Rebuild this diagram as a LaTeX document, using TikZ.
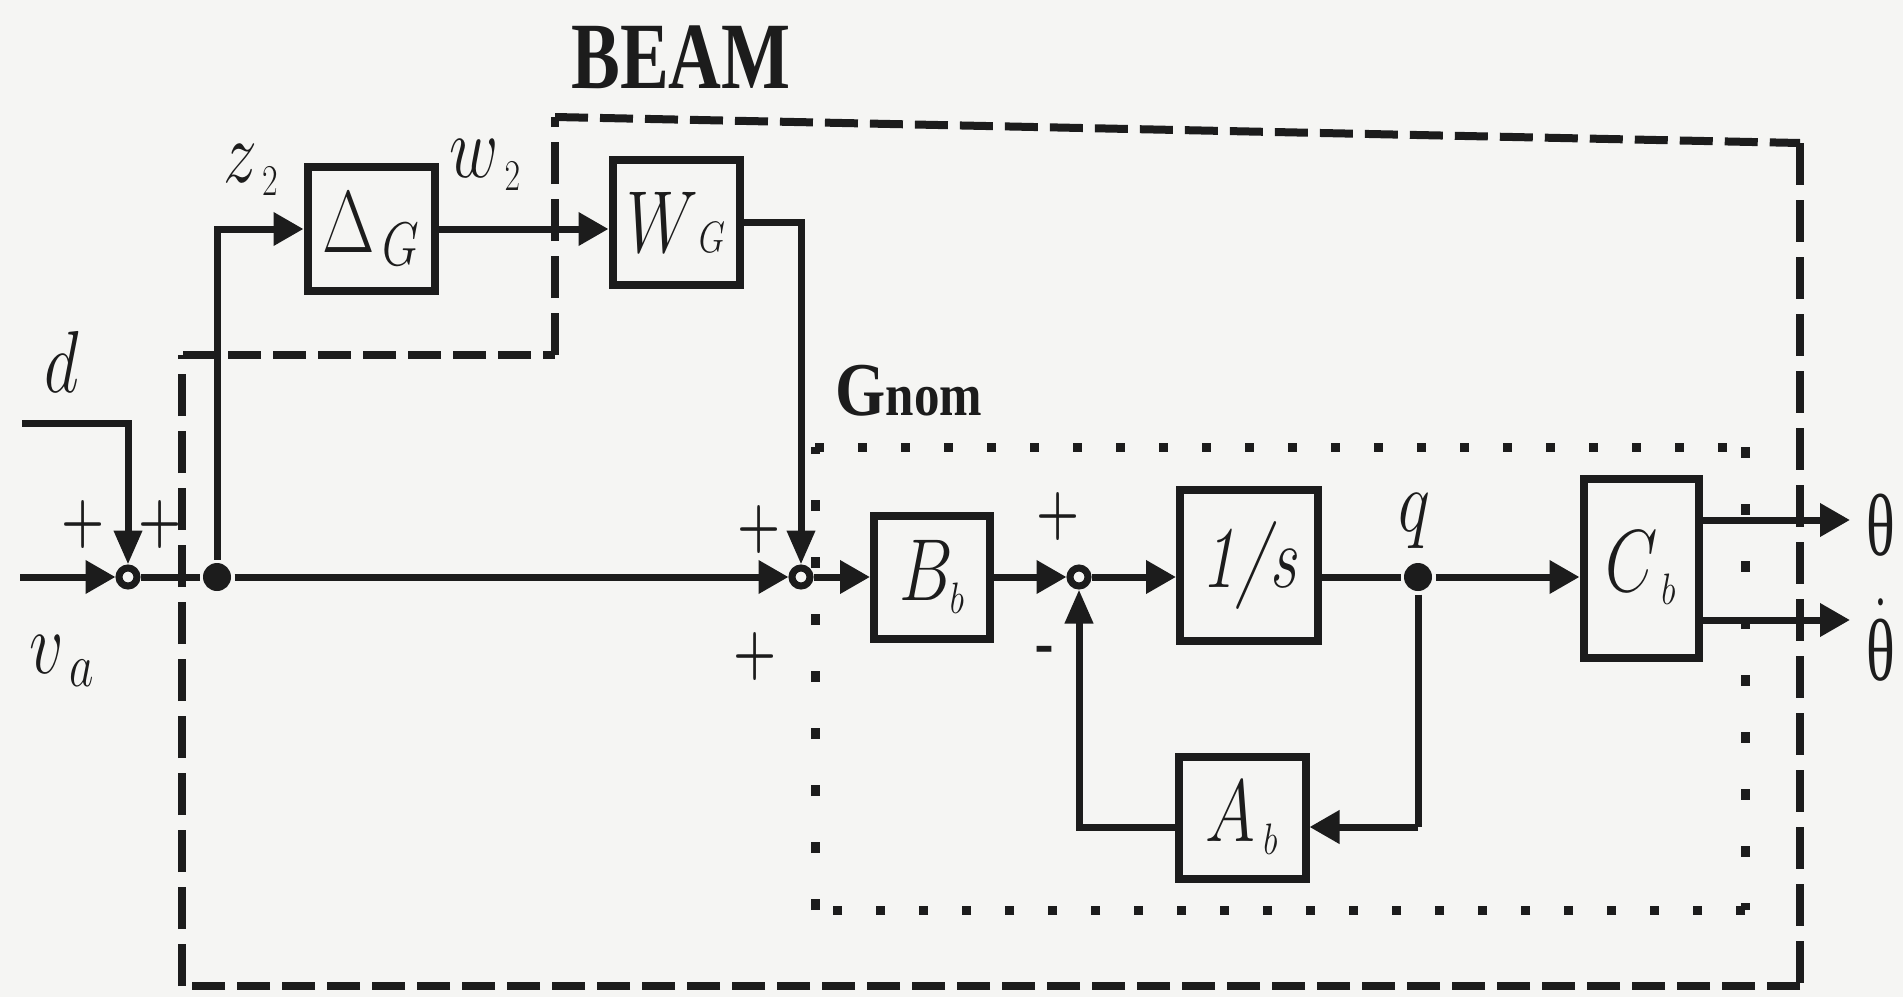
\IfFileExists{fix-cm.sty}{\RequirePackage{fix-cm}}{}
\documentclass[tikz,border=0pt]{standalone}
\usepackage{fontspec}
\newfontfamily\tms{Liberation Serif}
\usetikzlibrary{arrows.meta}
\definecolor{bg}{RGB}{245,245,243}
\definecolor{ink}{RGB}{28,28,28}
\newcommand{\hsq}[1]{\scalebox{0.77}[1]{#1}}
\newcommand{\thsq}[1]{\scalebox{0.68}[1]{#1}}
\tikzset{
  box/.style={draw, line width=4pt, inner sep=0pt, font=\fontsize{44}{48}\selectfont},
  sumnode/.style={circle, draw, line width=3.5pt, fill=bg, minimum size=9pt, inner sep=0pt},
  dotnode/.style={circle, fill=ink, minimum size=14pt, inner sep=0pt},
  lbl/.style={inner sep=0pt, font=\fontsize{44}{48}\selectfont, anchor=base},
  sgn/.style={inner sep=0pt, font=\bfseries\fontsize{32}{36}\selectfont},
  ah/.style={-{Triangle[length=15pt,width=16pt]}},
  av/.style={-{Triangle[length=17pt,width=13.5pt]}},
  dashh/.style={line width=4pt, dash pattern=on 16.5pt off 6pt},
  dashv/.style={line width=4pt, dash pattern=on 21pt off 7.5pt},
  doth/.style={line width=4.5pt, dash pattern=on 4.5pt off 17pt},
  dotv/.style={line width=4.5pt, dash pattern=on 5.5pt off 23pt},
}
\begin{document}
\begin{tikzpicture}[x=0.5pt, y=-0.5pt, line width=3.5pt, color=ink]
\fill[bg] (0,0) rectangle (1903,997);
\useasboundingbox (0,0) rectangle (1903,997);

% BEAM dashed outline
\draw[dashh] (183,355) -- (555,355);
\draw[dashv] (555,355) -- (555,117);
\draw[dashh] (555,117) -- (1800,143);
\draw[dashv] (1800,143) -- (1800,986);
\draw[dashh] (1800,986) -- (182,986);
\draw[dashv] (182,986) -- (182,355);

% Gnom dotted outline
\draw[doth] (815,447) -- (1745,447);
\draw[dotv] (1745,447) -- (1745,910);
\draw[doth] (1745,910) -- (815,910);
\draw[dotv] (815,910) -- (815,447);

% nodes
\node[sumnode] (sA) at (128,577) {};
\node[dotnode] (jd) at (217,577) {};
\node[sumnode] (sB) at (801,577) {};
\node[sumnode] (sC) at (1079,577) {};
\node[dotnode] (qd) at (1418,577) {};
\node[box, minimum width=63.5pt, minimum height=62pt] (DG) at (371,229) {\hsq{$\Delta_{\,G}$}};
\node[box, minimum width=63.5pt, minimum height=62.5pt] (WG) at (676,222) {\hsq{$W{\scriptscriptstyle G}$}};
\node[box, minimum width=58pt, minimum height=61.5pt] (Bb) at (932,577) {\hsq{$B_{\scriptscriptstyle b}$}};
\node[box, minimum width=69pt, minimum height=75.5pt] (Is) at (1249,565) {\hsq{\itshape 1/s}};
\node[box, minimum width=57.5pt, minimum height=89.5pt] (Cb) at (1641,568) {\hsq{$C_{\,\scriptscriptstyle b}$}};
\node[box, minimum width=63.5pt, minimum height=61pt] (Ab) at (1242,818) {\hsq{$A_{\,\scriptscriptstyle b}$}};

\coordinate (din) at (22,423);
\coordinate (vin) at (20,577);
\coordinate (o1) at (1850,520);
\coordinate (o2) at (1850,620);
\coordinate (fb) at (1418,827);

% connectors
\draw[av] (din) -| (sA);
\draw[ah] (vin) -- (sA);
\draw (sA) -- (jd);
\draw[ah] (jd) -- (sB);
\draw[ah] (jd) |- (DG);
\draw[ah] (DG) -- (DG -| WG.west);
\draw[av] (WG) -| (sB);
\draw[ah] (sB) -- (Bb);
\draw[ah] (Bb) -- (sC);
\draw[ah] (sC) -- (sC -| Is.west);
\draw (sC -| Is.east) -- (qd);
\draw[ah] (qd) -- (qd -| Cb.west);
\draw (qd) -- (fb);
\draw[ah] (fb) -- (fb -| Ab.east);
\draw[av] (fb -| Ab.west) -| (sC);
\draw[ah] (o1 -| Cb.east) -- (o1);
\draw[ah] (o2 -| Cb.east) -- (o2);

% labels
\node[inner sep=0pt, anchor=base, font=\tms\bfseries\fontsize{47.5}{52}\selectfont] (beam) at (681,88) {\hsq{BEAM}};
\node[inner sep=0pt, anchor=base west, font=\tms\bfseries\fontsize{38}{42}\selectfont] (gnom) at (832,415) {\scalebox{0.85}[1]{G{\fontsize{30}{34}\selectfont nom}}};
\node[lbl] (ld) at (62,392) {\hsq{$d$}};
\node[lbl] (lva) at (62,673) {\hsq{$v_{\,a}$}};
\node[lbl] (lz) at (251,182) {\hsq{$z_{\,\scriptscriptstyle 2}$}};
\node[lbl] (lw) at (485,177) {\hsq{$w_{\,\scriptscriptstyle 2}$}};
\node[lbl] (lq) at (1414,531) {\hsq{$q$}};
\node[lbl] (lt1) at (1881,555) {\thsq{\tms θ}};
\node[lbl] (lt2) at (1881,680) {\thsq{$\dot{\hbox{\tms θ}}$}};
\node[sgn] (p1) at (83,525) {\hsq{+}};
\node[sgn] (p2) at (160,525) {\hsq{+}};
\node[sgn] (p3) at (759,530) {\hsq{+}};
\node[sgn] (p4) at (755,657) {\hsq{+}};
\node[sgn] (p5) at (1058,517) {\hsq{+}};
\node[sgn, anchor=base] (m1) at (1046,663) {\hsq{-}};
\end{tikzpicture}
\end{document}
